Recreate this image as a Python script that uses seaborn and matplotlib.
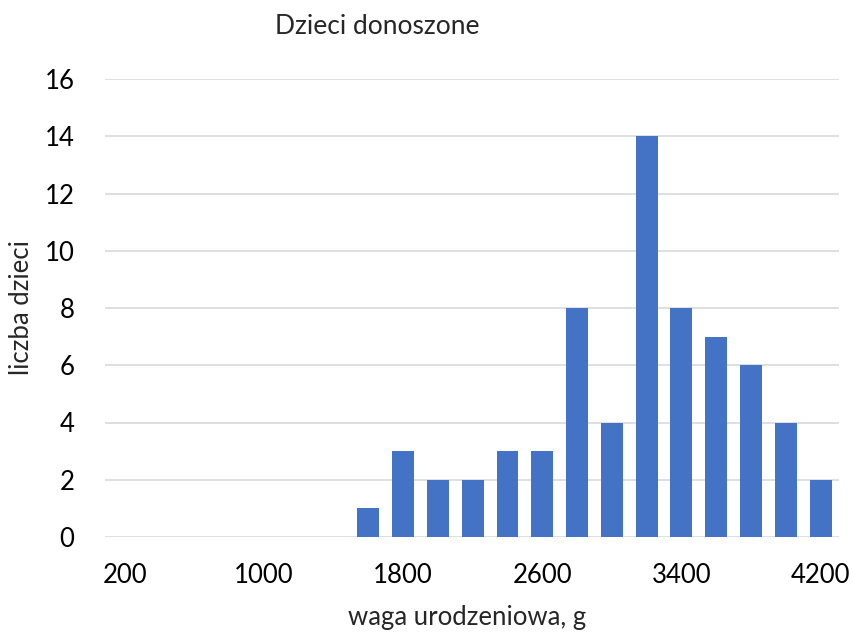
import matplotlib
matplotlib.use("Agg")
import matplotlib.pyplot as plt
import seaborn as sns
import pandas as pd

categories = [200, 400, 600, 800, 1000, 1200, 1400, 1600, 1800, 2000, 2200,
              2400, 2600, 2800, 3000, 3200, 3400, 3600, 3800, 4000, 4200]
counts = [0, 0, 0, 0, 0, 0, 0, 1, 3, 2, 2, 3, 3, 8, 4, 14, 8, 7, 6, 4, 2]
tick_labels = ["200", "1000", "1800", "2600", "3400", "4200"]
y_ticks = [0, 2, 4, 6, 8, 10, 12, 14, 16]

title = "Dzieci donoszone"
xlabel = "waga urodzeniowa, g"
ylabel = "liczba dzieci"

sns.set_style("white")
plt.rcParams['font.family'] = ['Lato', 'DejaVu Sans']

df = pd.DataFrame({"waga": [str(c) for c in categories], "liczba": counts})

fig = plt.figure(figsize=(8.54, 6.33), dpi=100)
ax = fig.add_axes([105/854, 1-537/633, (839-105)/854, (537-79)/633])

sns.barplot(data=df, x="waga", y="liczba", color="#4472C4", width=0.63,
            saturation=1, ax=ax, zorder=3, linewidth=0, edgecolor="none")

ax.set_ylim(0, 16)
ax.set_xlim(-0.57, 20.53)
ax.set_yticks(y_ticks)
ax.set_yticklabels([str(v) for v in y_ticks])
ax.set_xticks([categories.index(int(t)) for t in tick_labels])
ax.set_xticklabels(tick_labels)
ax.tick_params(axis="both", length=0, labelsize=18.5, colors="#000000")
ax.tick_params(axis="x", pad=19)
ax.tick_params(axis="y", pad=22)
ax.grid(axis="y", color="#D9D9D9", linewidth=1.2, zorder=0)
ax.grid(axis="x", visible=False)
for s in ax.spines.values():
    s.set_visible(False)

ax.set_xlabel("")
ax.set_ylabel("")
fig.text(467/854, 1-617/633, xlabel, ha="center", va="center", fontsize=18.5)
fig.text(22/854, 1-308/633, ylabel, ha="center", va="center", fontsize=18.5, rotation=90)
fig.text(377/854, 1-27/633, title, ha="center", va="center", fontsize=19)

fig.savefig("out.png", dpi=100)
